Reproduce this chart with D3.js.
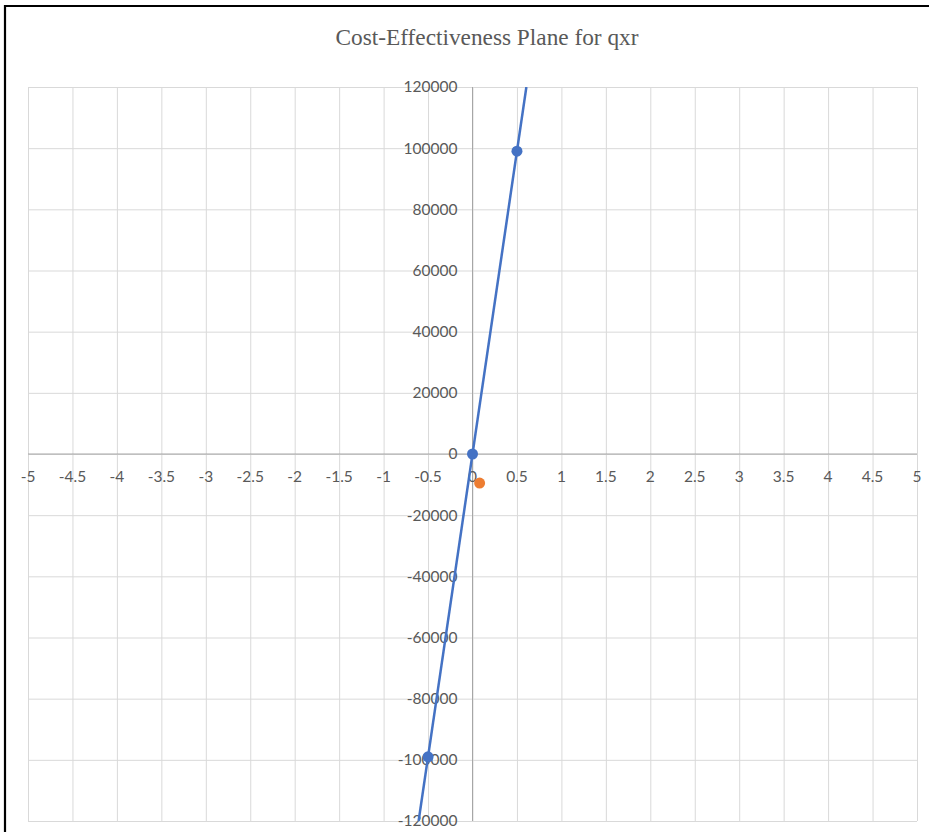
<!DOCTYPE html>
<html>
<head>
<meta charset="utf-8">
<script src="https://cdn.jsdelivr.net/npm/d3@7"></script>
<style>
  html, body { margin: 0; padding: 0; background: #fff; }
  svg { display: block; }
</style>
</head>
<body>
<svg id="chart" width="929" height="832"></svg>
<script>
// Incremental effect (x) and incremental cost (y)
const xTickValues = [-5, -4.5, -4, -3.5, -3, -2.5, -2, -1.5, -1, -0.5, 0, 0.5, 1, 1.5, 2, 2.5, 3, 3.5, 4, 4.5, 5];
const yTickValues = [-120000, -100000, -80000, -60000, -40000, -20000, 0, 20000, 40000, 60000, 80000, 100000, 120000];

// Threshold line series (blue)
const thresholdEffect = [-0.5, 0, 0.5];
const thresholdCost = [-99000, 0, 99000];

// Intervention point (orange)
const icerEffect = [0.08];
const icerCost = [-9500];

const svg = d3.select("#chart");
const W = 929, H = 832;
const plot = { left: 28, right: 917, top: 87, bottom: 821 };

const x = d3.scaleLinear().domain([-5, 5]).range([plot.left, plot.right]);
const y = d3.scaleLinear().domain([-120000, 120000]).range([plot.bottom, plot.top]);

const textColor = "#595959";
const gridColor = "#d9d9d9";
const axisColor = "#a6a6a6";

// Frame around the chart area
svg.append("path")
  .attr("d", `M5,${H + 5} L5,6 L${W + 5},6`)
  .attr("fill", "none")
  .attr("stroke", "#000")
  .attr("stroke-width", 2.2);

// Title
svg.append("text")
  .attr("x", 487)
  .attr("y", 37)
  .attr("dy", "0.35em")
  .attr("text-anchor", "middle")
  .attr("font-family", "'Liberation Serif', 'Times New Roman', serif")
  .attr("font-size", 23.3)
  .attr("fill", textColor)
  .text("Cost-Effectiveness Plane for qxr");

// Gridlines
const grid = svg.append("g");
grid.append("g")
  .attr("transform", `translate(0,${plot.bottom})`)
  .call(d3.axisBottom(x).tickValues(xTickValues).tickSize(-(plot.bottom - plot.top)).tickFormat(""))
  .call(g => g.select(".domain").remove())
  .call(g => g.selectAll("line").attr("stroke", gridColor).attr("stroke-width", 1));
grid.append("g")
  .attr("transform", `translate(${plot.left},0)`)
  .call(d3.axisLeft(y).tickValues(yTickValues).tickSize(-(plot.right - plot.left)).tickFormat(""))
  .call(g => g.select(".domain").remove())
  .call(g => g.selectAll("line").attr("stroke", gridColor).attr("stroke-width", 1));

// Axes crossing at the origin
svg.append("line")
  .attr("x1", plot.left).attr("x2", plot.right)
  .attr("y1", y(0)).attr("y2", y(0))
  .attr("stroke", axisColor).attr("stroke-width", 1);
svg.append("line")
  .attr("x1", x(0)).attr("x2", x(0))
  .attr("y1", plot.top).attr("y2", plot.bottom)
  .attr("stroke", axisColor).attr("stroke-width", 1);

// Tick labels
const labelFont = "Lato, 'Open Sans', sans-serif";
svg.append("g").selectAll("text")
  .data(xTickValues)
  .join("text")
  .attr("x", d => x(d))
  .attr("y", y(0) + 23)
  .attr("dy", "0.35em")
  .attr("text-anchor", "middle")
  .attr("font-family", labelFont)
  .attr("font-size", 15.5)
  .attr("fill", textColor)
  .text(d => d);

svg.append("g").selectAll("text")
  .data(yTickValues)
  .join("text")
  .attr("x", x(0) - 15)
  .attr("y", d => y(d))
  .attr("dy", "0.35em")
  .attr("text-anchor", "end")
  .attr("font-family", labelFont)
  .attr("font-size", 15.5)
  .attr("fill", textColor)
  .text(d => d);

// Clip to the plotting area
svg.append("clipPath").attr("id", "plot-clip")
  .append("rect")
  .attr("x", plot.left).attr("y", plot.top)
  .attr("width", plot.right - plot.left).attr("height", plot.bottom - plot.top);

// Threshold line extended across the cost range
const thresholdPts = thresholdEffect.map((e, i) => ({ e, c: thresholdCost[i] }));
const first = thresholdPts[0], last = thresholdPts[thresholdPts.length - 1];
const slope = (last.c - first.c) / (last.e - first.e);
const yDom = y.domain();
const lineEnds = [
  { e: first.e + (yDom[0] - first.c) / slope, c: yDom[0] },
  { e: first.e + (yDom[1] - first.c) / slope, c: yDom[1] }
];
svg.append("path")
  .datum(lineEnds)
  .attr("clip-path", "url(#plot-clip)")
  .attr("fill", "none")
  .attr("stroke", "#4472C4")
  .attr("stroke-width", 2.5)
  .attr("d", d3.line().x(d => x(d.e)).y(d => y(d.c)));

svg.append("g").selectAll("circle")
  .data(thresholdPts)
  .join("circle")
  .attr("cx", d => x(d.e))
  .attr("cy", d => y(d.c))
  .attr("r", 5.5)
  .attr("fill", "#4472C4");

// Intervention point
svg.append("g").selectAll("circle")
  .data(icerEffect.map((e, i) => ({ e, c: icerCost[i] })))
  .join("circle")
  .attr("cx", d => x(d.e))
  .attr("cy", d => y(d.c))
  .attr("r", 5.5)
  .attr("fill", "#ED7D31");
</script>
</body>
</html>
